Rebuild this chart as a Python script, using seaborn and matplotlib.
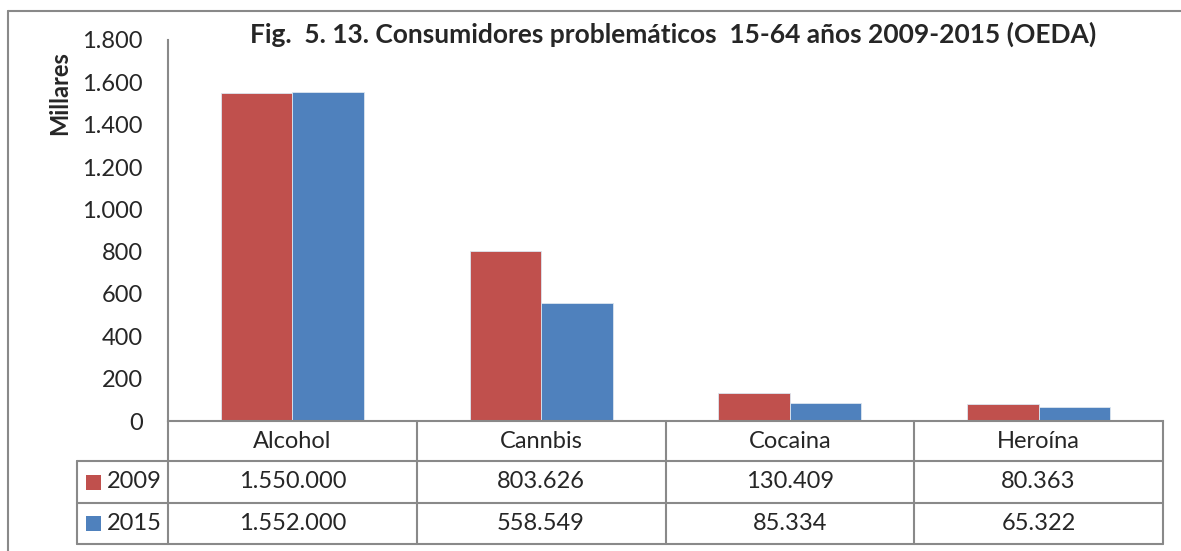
import numpy as np
import pandas as pd
import seaborn as sns
import matplotlib.pyplot as plt
from matplotlib.lines import Line2D
from matplotlib.patches import Rectangle

# data (personas)
categories = ['Alcohol', 'Cannbis', 'Cocaina', 'Heroína']
years = ['2009', '2015']
values_2009 = [1550000, 803626, 130409, 80363]
values_2015 = [1552000, 558549, 85334, 65322]
y_ticks = [0, 200, 400, 600, 800, 1000, 1200, 1400, 1600, 1800]

colors = ['#C0504D', '#4F81BD']
grid_col = '#898989'
fs = 17

df = pd.DataFrame({
    'Droga': categories * 2,
    'Año': [years[0]] * 4 + [years[1]] * 4,
    'Valor': values_2009 + values_2015,
})
df['Millares'] = df['Valor'] / 1000


def fmt_es(v):
    return f'{v:,.0f}'.replace(',', '.')


sns.set_style('white')
plt.rcParams['font.family'] = ['Lato', 'DejaVu Sans']

W, H = 1181, 551
fig = plt.figure(figsize=(W / 100, H / 100), dpi=100)

# axes in pixel layout
ax_l, ax_r, ax_t, ax_b = 168, 1163, 40, 421
ax = fig.add_axes([ax_l / W, (H - ax_b) / H, (ax_r - ax_l) / W, (ax_b - ax_t) / H])

sns.barplot(data=df, x='Droga', y='Millares', hue='Año', palette=colors, saturation=1,
            width=0.574, edgecolor='#dce6f0', linewidth=0.6, legend=False, ax=ax)

ax.set_ylim(0, 1800)
ax.set_xlim(-0.5, 3.5)
ax.set_yticks(y_ticks)
ax.set_yticklabels([fmt_es(t) for t in y_ticks], fontsize=fs)
ax.tick_params(axis='y', direction='out', length=7, width=1.2, color=grid_col, pad=11)
ax.tick_params(axis='x', bottom=False, labelbottom=False)
ax.set_xlabel('')
ax.set_ylabel('')
for s in ['top', 'right']:
    ax.spines[s].set_visible(False)
ax.spines['left'].set_color(grid_col)
ax.spines['left'].set_linewidth(1.5)
ax.spines['bottom'].set_color(grid_col)
ax.spines['bottom'].set_linewidth(1.5)

# data table below the axes
ah = ax_b - ax_t
aw = ax_r - ax_l
row_y = [ax_b, 461, 503, 544]
ry = [(ax_b - y) / ah for y in row_y]
leg_x = (77 - ax_l) / aw
tr = ax.transAxes
kw = dict(transform=tr, color=grid_col, lw=1.5, clip_on=False)

for y in ry[1:]:
    ax.add_line(Line2D([leg_x, 1], [y, y], **kw))
ax.add_line(Line2D([leg_x, leg_x], [ry[1], ry[3]], **kw))
for i in range(5):
    x = i / 4
    ax.add_line(Line2D([x, x], [ry[0], ry[3]], **kw))

for i, cat in enumerate(categories):
    xc = (i + 0.5) / 4
    ax.text(xc, (ry[0] + ry[1]) / 2, cat, transform=tr, ha='center', va='center', fontsize=fs)
    ax.text(xc, (ry[1] + ry[2]) / 2, fmt_es(values_2009[i]), transform=tr,
            ha='center', va='center', fontsize=fs)
    ax.text(xc, (ry[2] + ry[3]) / 2, fmt_es(values_2015[i]), transform=tr,
            ha='center', va='center', fontsize=fs)

# legend keys in the table
for j, (yr, c) in enumerate(zip(years, colors)):
    yc_px = (row_y[j + 1] + row_y[j + 2]) / 2
    fig.add_artist(Rectangle((86 / W, (H - yc_px - 7.5) / H), 15 / W, 15 / H,
                             transform=fig.transFigure, facecolor=c, edgecolor='none'))
    fig.text(107 / W, (H - yc_px) / H, yr, ha='left', va='center', fontsize=fs)

# title and y label
fig.text(673 / W, (H - 34) / H, 'Fig.  5. 13. Consumidores problemáticos  15-64 años 2009-2015 (OEDA)',
         ha='center', va='center', fontsize=19, fontweight='bold')
fig.text(60 / W, (H - 93) / H, 'Millares', rotation=90, ha='center', va='center',
         fontsize=17, fontweight='bold')

# outer chart border
fig.add_artist(Line2D([8 / W, 1], [(H - 11) / H] * 2, transform=fig.transFigure,
                      color=grid_col, lw=1.5))
fig.add_artist(Line2D([8 / W] * 2, [0, (H - 11) / H], transform=fig.transFigure,
                      color=grid_col, lw=1.5))

fig.savefig('out.png', dpi=100)
